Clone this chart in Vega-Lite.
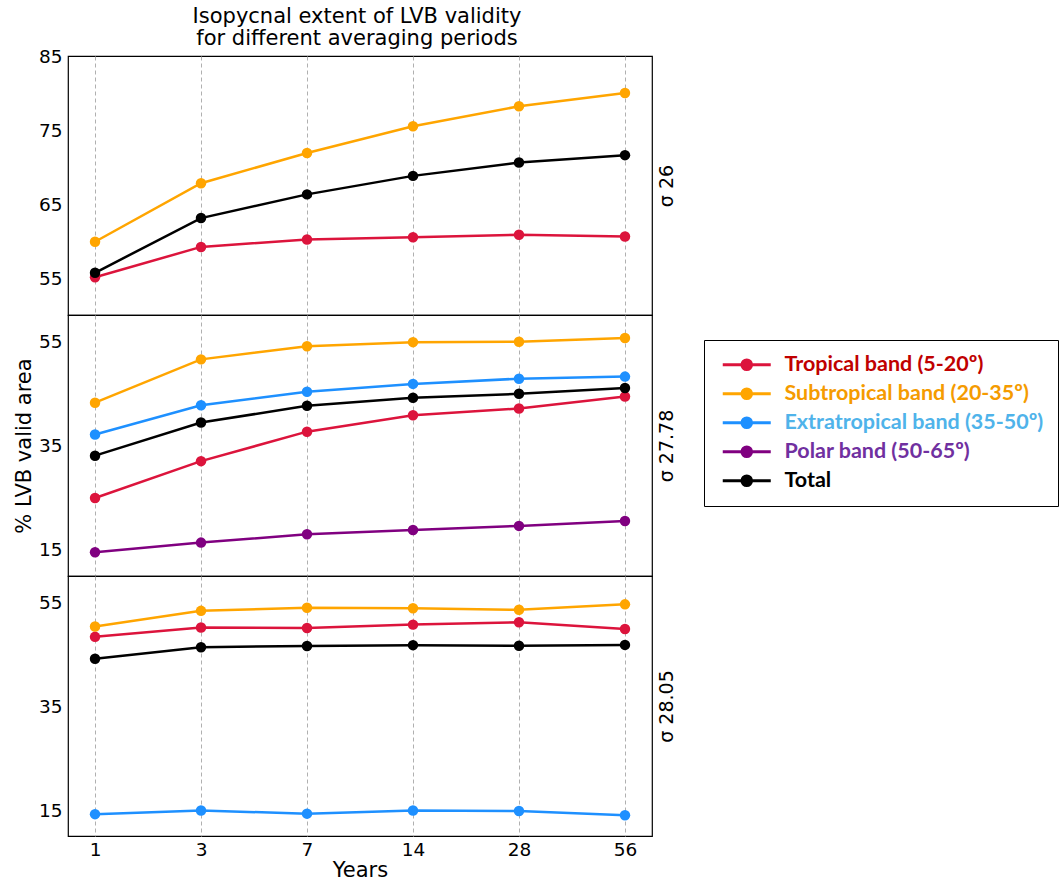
{
  "$schema": "https://vega.github.io/schema/vega-lite/v6.json",
  "background": "white",
  "padding": {"left": 12, "top": 4, "right": 0, "bottom": 0},
  "spacing": 0,
  "bounds": "flush",
  "data": {"values": [
    {"p": "26", "years": 1, "band": "Tropical band (5-20º)", "v": 55.1},
    {"p": "26", "years": 3, "band": "Tropical band (5-20º)", "v": 59.2},
    {"p": "26", "years": 7, "band": "Tropical band (5-20º)", "v": 60.2},
    {"p": "26", "years": 14, "band": "Tropical band (5-20º)", "v": 60.5},
    {"p": "26", "years": 28, "band": "Tropical band (5-20º)", "v": 60.85},
    {"p": "26", "years": 56, "band": "Tropical band (5-20º)", "v": 60.6},
    {"p": "26", "years": 1, "band": "Subtropical band (20-35º)", "v": 59.9},
    {"p": "26", "years": 3, "band": "Subtropical band (20-35º)", "v": 67.8},
    {"p": "26", "years": 7, "band": "Subtropical band (20-35º)", "v": 71.9},
    {"p": "26", "years": 14, "band": "Subtropical band (20-35º)", "v": 75.5},
    {"p": "26", "years": 28, "band": "Subtropical band (20-35º)", "v": 78.2},
    {"p": "26", "years": 56, "band": "Subtropical band (20-35º)", "v": 80.0},
    {"p": "26", "years": 1, "band": "Total", "v": 55.7},
    {"p": "26", "years": 3, "band": "Total", "v": 63.1},
    {"p": "26", "years": 7, "band": "Total", "v": 66.3},
    {"p": "26", "years": 14, "band": "Total", "v": 68.8},
    {"p": "26", "years": 28, "band": "Total", "v": 70.6},
    {"p": "26", "years": 56, "band": "Total", "v": 71.6},

    {"p": "27.78", "years": 1, "band": "Tropical band (5-20º)", "v": 24.95},
    {"p": "27.78", "years": 3, "band": "Tropical band (5-20º)", "v": 32.0},
    {"p": "27.78", "years": 7, "band": "Tropical band (5-20º)", "v": 37.65},
    {"p": "27.78", "years": 14, "band": "Tropical band (5-20º)", "v": 40.8},
    {"p": "27.78", "years": 28, "band": "Tropical band (5-20º)", "v": 42.1},
    {"p": "27.78", "years": 56, "band": "Tropical band (5-20º)", "v": 44.4},
    {"p": "27.78", "years": 1, "band": "Subtropical band (20-35º)", "v": 43.2},
    {"p": "27.78", "years": 3, "band": "Subtropical band (20-35º)", "v": 51.5},
    {"p": "27.78", "years": 7, "band": "Subtropical band (20-35º)", "v": 54.0},
    {"p": "27.78", "years": 14, "band": "Subtropical band (20-35º)", "v": 54.8},
    {"p": "27.78", "years": 28, "band": "Subtropical band (20-35º)", "v": 54.87},
    {"p": "27.78", "years": 56, "band": "Subtropical band (20-35º)", "v": 55.6},
    {"p": "27.78", "years": 1, "band": "Extratropical band (35-50º)", "v": 37.1},
    {"p": "27.78", "years": 3, "band": "Extratropical band (35-50º)", "v": 42.7},
    {"p": "27.78", "years": 7, "band": "Extratropical band (35-50º)", "v": 45.3},
    {"p": "27.78", "years": 14, "band": "Extratropical band (35-50º)", "v": 46.8},
    {"p": "27.78", "years": 28, "band": "Extratropical band (35-50º)", "v": 47.8},
    {"p": "27.78", "years": 56, "band": "Extratropical band (35-50º)", "v": 48.2},
    {"p": "27.78", "years": 1, "band": "Polar band (50-65º)", "v": 14.55},
    {"p": "27.78", "years": 3, "band": "Polar band (50-65º)", "v": 16.4},
    {"p": "27.78", "years": 7, "band": "Polar band (50-65º)", "v": 18.0},
    {"p": "27.78", "years": 14, "band": "Polar band (50-65º)", "v": 18.8},
    {"p": "27.78", "years": 28, "band": "Polar band (50-65º)", "v": 19.6},
    {"p": "27.78", "years": 56, "band": "Polar band (50-65º)", "v": 20.55},
    {"p": "27.78", "years": 1, "band": "Total", "v": 33.05},
    {"p": "27.78", "years": 3, "band": "Total", "v": 39.4},
    {"p": "27.78", "years": 7, "band": "Total", "v": 42.6},
    {"p": "27.78", "years": 14, "band": "Total", "v": 44.15},
    {"p": "27.78", "years": 28, "band": "Total", "v": 44.9},
    {"p": "27.78", "years": 56, "band": "Total", "v": 46.0},

    {"p": "28.05", "years": 1, "band": "Tropical band (5-20º)", "v": 48.3},
    {"p": "28.05", "years": 3, "band": "Tropical band (5-20º)", "v": 50.1},
    {"p": "28.05", "years": 7, "band": "Tropical band (5-20º)", "v": 50.0},
    {"p": "28.05", "years": 14, "band": "Tropical band (5-20º)", "v": 50.65},
    {"p": "28.05", "years": 28, "band": "Tropical band (5-20º)", "v": 51.1},
    {"p": "28.05", "years": 56, "band": "Tropical band (5-20º)", "v": 49.8},
    {"p": "28.05", "years": 1, "band": "Subtropical band (20-35º)", "v": 50.3},
    {"p": "28.05", "years": 3, "band": "Subtropical band (20-35º)", "v": 53.3},
    {"p": "28.05", "years": 7, "band": "Subtropical band (20-35º)", "v": 53.9},
    {"p": "28.05", "years": 14, "band": "Subtropical band (20-35º)", "v": 53.8},
    {"p": "28.05", "years": 28, "band": "Subtropical band (20-35º)", "v": 53.5},
    {"p": "28.05", "years": 56, "band": "Subtropical band (20-35º)", "v": 54.55},
    {"p": "28.05", "years": 1, "band": "Extratropical band (35-50º)", "v": 14.2},
    {"p": "28.05", "years": 3, "band": "Extratropical band (35-50º)", "v": 14.9},
    {"p": "28.05", "years": 7, "band": "Extratropical band (35-50º)", "v": 14.3},
    {"p": "28.05", "years": 14, "band": "Extratropical band (35-50º)", "v": 14.9},
    {"p": "28.05", "years": 28, "band": "Extratropical band (35-50º)", "v": 14.8},
    {"p": "28.05", "years": 56, "band": "Extratropical band (35-50º)", "v": 14.0},
    {"p": "28.05", "years": 1, "band": "Total", "v": 44.1},
    {"p": "28.05", "years": 3, "band": "Total", "v": 46.3},
    {"p": "28.05", "years": 7, "band": "Total", "v": 46.55},
    {"p": "28.05", "years": 14, "band": "Total", "v": 46.7},
    {"p": "28.05", "years": 28, "band": "Total", "v": 46.6},
    {"p": "28.05", "years": 56, "band": "Total", "v": 46.75}
  ]},
  "vconcat": [
    {
      "width": 584, "height": 259,
      "title": {"text": ["Isopycnal extent of LVB validity", " for different averaging periods"], "font": "DejaVu Sans", "fontSize": 21, "fontWeight": "normal", "anchor": "middle", "frame": "group", "offset": -2, "lineHeight": 22.5, "color": "black", "dx": -3},
      "transform": [{"filter": "datum.p == '26'"}],
      "layer": [
        {
          "mark": {"type": "line", "strokeWidth": 2.5, "point": {"filled": true, "size": 110, "opacity": 1}},
          "encoding": {
            "x": {"field": "years", "type": "ordinal", "scale": {"type": "point", "padding": 0.255}, "axis": {"labels": false, "title": null, "grid": true}},
            "y": {"field": "v", "type": "quantitative", "scale": {"domain": [50, 85], "nice": false, "zero": false}, "axis": {"values": [55, 65, 75, 85], "title": null, "grid": false}},
            "color": {"field": "band", "type": "nominal",
              "scale": {"domain": ["Tropical band (5-20º)", "Subtropical band (20-35º)", "Extratropical band (35-50º)", "Polar band (50-65º)", "Total"], "range": ["#DC143C", "#FFA500", "#1E90FF", "#800080", "#000000"]},
              "legend": {
                "orient": "none", "legendX": 636, "legendY": 284, "title": null,
                "strokeColor": "black", "fillColor": "white", "padding": 14,
                "labelFont": "Lato", "labelFontWeight": "bold", "labelFontSize": 21.5, "labelLimit": 400,
                "labelColor": {"expr": "datum.value=='Total'?'#000000':indexof(datum.value,'Tropical')==0?'#C00000':indexof(datum.value,'Subtropical')==0?'#F59B00':indexof(datum.value,'Extratropical')==0?'#4FB3EA':'#7030A0'"},
                "symbolType": "M-0.75,0L5.25,0M1.65,0A0.6,0.6,0,1,1,2.85,0A0.6,0.6,0,1,1,1.65,0",
                "symbolSize": 256, "symbolStrokeWidth": 3, "labelOffset": 45, "rowPadding": 6
              }
            }
          }
        },
        {
          "mark": {"type": "point", "opacity": 0},
          "encoding": {
            "x": {"field": "years", "type": "ordinal"},
            "y": {"field": "v", "type": "quantitative", "axis": {"orient": "right", "title": "σ 26", "labels": false, "grid": false, "titleAngle": 270, "titleBaseline": "top", "titlePadding": 5}}
          }
        }
      ],
      "resolve": {"axis": {"y": "independent"}}
    },
    {
      "width": 584, "height": 261,
      "transform": [{"filter": "datum.p == '27.78'"}],
      "layer": [
        {
          "mark": {"type": "line", "strokeWidth": 2.5, "point": {"filled": true, "size": 110, "opacity": 1}},
          "encoding": {
            "x": {"field": "years", "type": "ordinal", "scale": {"type": "point", "padding": 0.255}, "axis": {"labels": false, "title": null, "grid": true}},
            "y": {"field": "v", "type": "quantitative", "scale": {"domain": [10, 60], "nice": false, "zero": false}, "axis": {"values": [15, 35, 55], "title": "% LVB valid area", "titleFontSize": 21, "grid": false}},
            "color": {"field": "band", "type": "nominal"}
          }
        },
        {
          "mark": {"type": "point", "opacity": 0},
          "encoding": {
            "x": {"field": "years", "type": "ordinal"},
            "y": {"field": "v", "type": "quantitative", "axis": {"orient": "right", "title": "σ 27.78", "labels": false, "grid": false, "titleAngle": 270, "titleBaseline": "top", "titlePadding": 5}}
          }
        }
      ],
      "resolve": {"axis": {"y": "independent"}}
    },
    {
      "width": 584, "height": 260,
      "transform": [{"filter": "datum.p == '28.05'"}],
      "layer": [
        {
          "mark": {"type": "line", "strokeWidth": 2.5, "point": {"filled": true, "size": 110, "opacity": 1}},
          "encoding": {
            "x": {"field": "years", "type": "ordinal", "scale": {"type": "point", "padding": 0.255}, "axis": {"labelAngle": 0, "title": "Years", "titleFontSize": 21, "labelPadding": 4, "titlePadding": 1, "grid": true}},
            "y": {"field": "v", "type": "quantitative", "scale": {"domain": [10, 60], "nice": false, "zero": false}, "axis": {"values": [15, 35, 55], "title": null, "grid": false}},
            "color": {"field": "band", "type": "nominal"}
          }
        },
        {
          "mark": {"type": "point", "opacity": 0},
          "encoding": {
            "x": {"field": "years", "type": "ordinal"},
            "y": {"field": "v", "type": "quantitative", "axis": {"orient": "right", "title": "σ 28.05", "labels": false, "grid": false, "titleAngle": 270, "titleBaseline": "top", "titlePadding": 5}}
          }
        }
      ],
      "resolve": {"axis": {"y": "independent"}}
    }
  ],
  "config": {
    "view": {"stroke": "#000000", "strokeWidth": 1.2},
    "axis": {
      "labelFont": "DejaVu Sans", "labelFontSize": 18.5, "labelColor": "#000000", "labelPadding": 6,
      "titleFont": "DejaVu Sans", "titleFontSize": 19, "titleFontWeight": "normal", "titleColor": "#000000",
      "domain": false, "ticks": false,
      "gridColor": "#b0b0b0", "gridDash": [4, 3], "gridWidth": 1
    }
  }
}
